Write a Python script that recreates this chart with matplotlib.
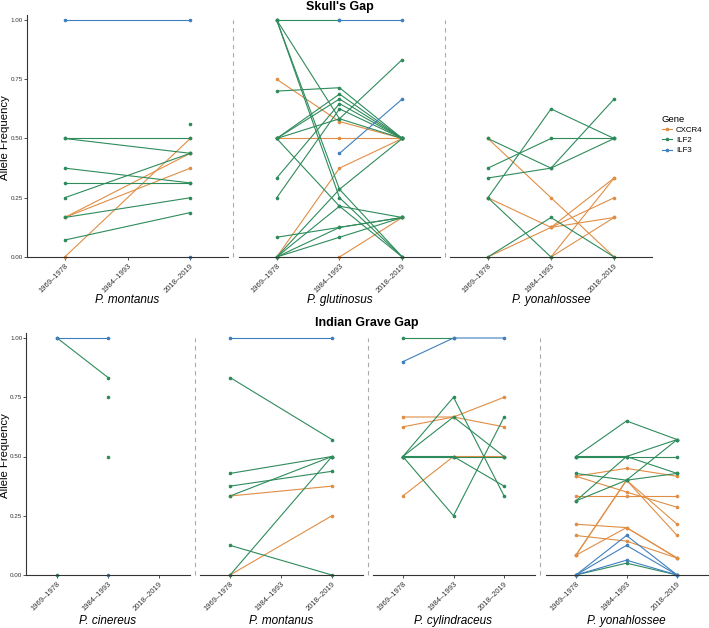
import matplotlib
matplotlib.use("Agg")
import matplotlib.pyplot as plt
from matplotlib.lines import Line2D

plt.rcParams['font.family'] = ['Liberation Sans', 'DejaVu Sans']

periods = ["1969\u20131978", "1984\u20131993", "2018\u20132019"]
genes = ["CXCR4", "ILF2", "ILF3"]
gene_colors = {"CXCR4": "#E08E45", "ILF2": "#2E8B5B", "ILF3": "#3F7FBF"}
yticks = [0.0, 0.25, 0.5, 0.75, 1.0]
N = None

# ---- Skull's Gap ----
sg_montanus = {
    "CXCR4": [[0.1667, N, 0.4375], [0.1667, N, 0.375], [0.0, N, 0.5]],
    "ILF2": [[0.5, N, 0.5], [0.5, N, 0.4375], [0.375, N, 0.3125], [0.3125, N, 0.3125],
             [0.25, N, 0.4375], [0.1667, N, 0.25], [0.0714, N, 0.1875], [N, N, 0.5625]],
    "ILF3": [[1.0, N, 1.0], [N, N, 0.0]],
}
sg_glutinosus = {
    "CXCR4": [[0.75, 0.5714, 0.5], [0.5, 0.5, 0.5], [0.0, 0.375, 0.5], [N, 0.0, 0.1667]],
    "ILF2": [[1.0, 1.0, N], [1.0, 0.5833, 0.5], [1.0, 0.2857, 0.0], [1.0, 0.25, 0.0],
             [0.7, 0.7143, 0.5], [0.5, 0.6875, 0.5], [0.5, 0.6667, 0.5], [0.5, 0.5833, 0.8333],
             [0.5, 0.2143, 0.0], [0.3333, 0.6471, 0.5], [0.25, 0.625, 0.5],
             [0.0833, 0.125, 0.1667], [0.0, 0.0833, 0.1667], [0.0, 0.2143, 0.1667],
             [0.0, 0.2857, 0.5], [0.0, 0.125, 0.1667]],
    "ILF3": [[N, 1.0, 1.0], [N, 0.4375, 0.6667]],
}
sg_yonahlossee = {
    "CXCR4": [[0.5, 0.25, 0.0], [0.25, 0.125, 0.1667], [0.0, 0.125, 0.3333],
              [N, 0.0, 0.3333], [N, 0.0, 0.1667], [N, 0.125, 0.25]],
    "ILF2": [[0.5, 0.375, 0.5], [0.375, 0.5, 0.5], [0.3333, 0.375, 0.6667],
             [0.25, 0.625, 0.5], [0.25, 0.0, N], [0.0, 0.1667, 0.0]],
    "ILF3": [],
}

# ---- Indian Grave Gap ----
ig_cinereus = {
    "CXCR4": [],
    "ILF2": [[1.0, 0.8333, N], [N, 0.75, N], [N, 0.5, N], [0.0, N, N]],
    "ILF3": [[1.0, 1.0, N], [N, 0.0, N]],
}
ig_montanus = {
    "CXCR4": [[0.3333, N, 0.375], [0.0, N, 0.25]],
    "ILF2": [[0.8333, N, 0.5714], [0.4286, N, 0.5], [0.375, N, 0.4375], [0.3333, N, 0.5],
             [0.125, N, 0.0], [0.0, N, 0.5]],
    "ILF3": [[1.0, N, 1.0]],
}
ig_cylindraceus = {
    "CXCR4": [[0.6667, 0.6667, 0.625], [0.625, 0.6667, 0.75], [0.3333, 0.5, 0.5]],
    "ILF2": [[1.0, 1.0, N], [0.5, 0.75, 0.3333], [0.5, 0.6667, 0.5], [0.5, 0.5, 0.5],
             [0.5, 0.5, 0.375], [0.5, 0.25, 0.6667]],
    "ILF3": [[0.9, 1.0, 1.0]],
}
ig_yonahlossee = {
    "CXCR4": [[0.4167, 0.45, 0.4167], [0.4167, 0.35, 0.2857], [0.3333, 0.3333, 0.3333],
              [0.2143, 0.2, 0.0714], [0.1667, 0.1429, 0.0714], [0.0833, 0.4, 0.2143],
              [0.0833, 0.4, 0.1667], [0.0833, 0.2, 0.0714]],
    "ILF2": [[0.5, 0.65, 0.5714], [0.5, 0.5, 0.5], [0.4286, 0.4, 0.4286],
             [0.3125, 0.5, 0.5714], [0.3125, 0.4, 0.5714], [0.5, 0.5, 0.4286],
             [0.0, 0.05, 0.0]],
    "ILF3": [[0.0, 0.1667, 0.0], [0.0, 0.125, 0.0], [0.0, 0.0625, 0.0]],
}

top_species = ["P. montanus", "P. glutinosus", "P. yonahlossee"]
top_data = [sg_montanus, sg_glutinosus, sg_yonahlossee]
bot_species = ["P. cinereus", "P. montanus", "P. cylindraceus", "P. yonahlossee"]
bot_data = [ig_cinereus, ig_montanus, ig_cylindraceus, ig_yonahlossee]

W, H = 709, 628
fig = plt.figure(figsize=(W / 100, H / 100), dpi=100)
YTOP = 1.02
SCALE = 237.0


def make_ax(x0, x1, ybase):
    h = SCALE * YTOP
    return fig.add_axes([x0 / W, 1 - ybase / H, (x1 - x0) / W, h / H])


def draw_panel(ax, data, first):
    for g in genes:
        for traj in data[g]:
            xs = [i + 1 for i, v in enumerate(traj) if v is not None]
            ys = [v for v in traj if v is not None]
            ax.plot(xs, ys, color=gene_colors[g], lw=0.8, marker='o', ms=1.6,
                    clip_on=False, solid_capstyle='round')
    ax.set_xlim(0.4, 3.6)
    ax.set_ylim(0, YTOP)
    for s in ["top", "right"]:
        ax.spines[s].set_visible(False)
    ax.spines["bottom"].set_color("#333333")
    ax.spines["bottom"].set_linewidth(0.8)
    ax.set_xticks([1, 2, 3])
    ax.set_xticklabels(periods, rotation=45, ha='right', va='top',
                       rotation_mode='anchor', fontsize=5.5, color="#333333")
    ax.tick_params(axis='x', length=2, width=0.6, color="#333333", pad=2)
    if first:
        ax.spines["left"].set_color("#333333")
        ax.spines["left"].set_linewidth(0.8)
        ax.set_yticks(yticks)
        ax.set_yticklabels(["%.2f" % v for v in yticks], fontsize=4.5, color="#333333")
        ax.tick_params(axis='y', length=2, width=0.6, color="#333333", pad=1.0)
    else:
        ax.spines["left"].set_visible(False)
        ax.set_yticks([])
    ax.patch.set_alpha(0)


# top row
top_x = [(27, 228), (239, 440), (450, 652)]
for i, ((x0, x1), sp, d) in enumerate(zip(top_x, top_species, top_data)):
    ax = make_ax(x0, x1, 257)
    draw_panel(ax, d, i == 0)
    fig.text(((x0 + x1) / 2) / W, 1 - 300 / H, sp, ha='center', va='center',
             fontsize=8.5, style='italic')

# bottom row
bot_x = [(26.5, 189.5), (199.5, 362.5), (372.5, 534.5), (545.5, 707.5)]
for i, ((x0, x1), sp, d) in enumerate(zip(bot_x, bot_species, bot_data)):
    ax = make_ax(x0, x1, 575)
    draw_panel(ax, d, i == 0)
    fig.text(((x0 + x1) / 2) / W, 1 - 621 / H, sp, ha='center', va='center',
             fontsize=8.5, style='italic')

# dashed separators
for xp in [232.5, 445]:
    fig.add_artist(Line2D([xp / W, xp / W], [1 - 257 / H, 1 - 20 / H], color="#AAAAAA",
                          lw=0.8, linestyle=(0, (4, 3.5))))
for xp in [194.5, 367.5, 540]:
    fig.add_artist(Line2D([xp / W, xp / W], [1 - 575 / H, 1 - 338 / H], color="#AAAAAA",
                          lw=0.8, linestyle=(0, (4, 3.5))))

# titles
fig.text(340 / W, 1 - 7 / H, "Skull's Gap", ha='center', va='center', fontsize=9,
         fontweight='bold')
fig.text(367 / W, 1 - 323 / H, "Indian Grave Gap", ha='center', va='center', fontsize=9,
         fontweight='bold')

# y labels
fig.text(5.5 / W, 1 - 138 / H, "Allele Frequency", rotation=90, ha='center', va='center',
         fontsize=8.2)
fig.text(5.5 / W, 1 - 456 / H, "Allele Frequency", rotation=90, ha='center', va='center',
         fontsize=8.2)

# legend
handles = [Line2D([0], [0], color=gene_colors[g], lw=0.8, marker='o', ms=1.6) for g in genes]
leg = fig.legend(handles, genes, loc='upper left', bbox_to_anchor=(656 / W, 1 - 109 / H),
                 frameon=False, fontsize=5.7, title="Gene", title_fontsize=6.8,
                 handlelength=1.3, handletextpad=0.5, labelspacing=0.35, borderpad=0.2)
leg._legend_box.align = "left"

fig.savefig("out.png", dpi=100)
